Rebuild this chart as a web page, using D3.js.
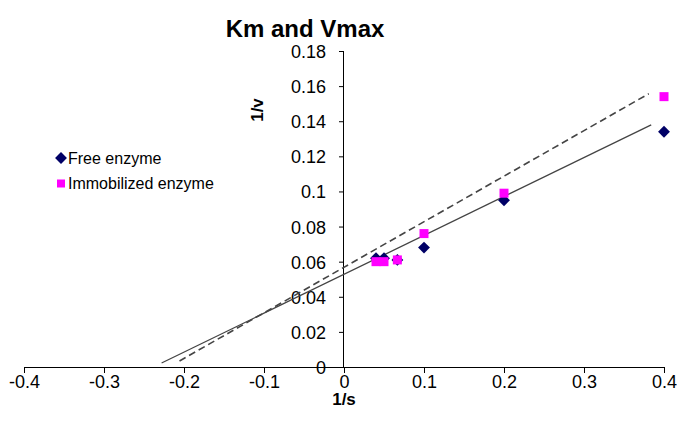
<!DOCTYPE html>
<html>
<head>
<meta charset="utf-8">
<script src="https://cdnjs.cloudflare.com/ajax/libs/d3/7.8.5/d3.min.js"></script>
<style>
  body { margin: 0; background: #fff; }
  svg { font-family: "Liberation Sans", Arial, sans-serif; }
</style>
</head>
<body>
<div class="chart"></div>
<script>
// 1/s values
var invS = [0.4, 0.2, 0.1, 0.0667, 0.05, 0.04];
// 1/v values
var freeEnzyme = [0.134, 0.095, 0.068, 0.061, 0.062, 0.062];
var immobEnzyme = [0.154, 0.099, 0.076, 0.061, 0.060, 0.060];
// trendlines: [slope, intercept, xStart, xEnd]
var freeTrend = [0.2216, 0.0528, -0.228, 0.384];
var immobTrend = [0.2595, 0.0568, -0.2056, 0.381];

var xTicks = [-0.4, -0.3, -0.2, -0.1, 0, 0.1, 0.2, 0.3, 0.4];
var yTicks = [0, 0.02, 0.04, 0.06, 0.08, 0.1, 0.12, 0.14, 0.16, 0.18];

var width = 677, height = 428;

var svg = d3.select(".chart")
    .append("svg")
    .attr("width", width)
    .attr("height", height);

var x = d3.scaleLinear()
    .domain([-0.4, 0.4])
    .range([24, 664]);

var y = d3.scaleLinear()
    .domain([0, 0.18])
    .range([367, 51]);

// title
svg.append("text")
    .attr("x", 305)
    .attr("y", 37)
    .attr("text-anchor", "middle")
    .style("font-size", "24px")
    .style("font-weight", "bold")
    .text("Km and Vmax");

// axes (plain hyphen for negatives, like the original)
function fmt(p) {
  return function(d) { return String(+d.toFixed(p)); };
}

var xAxis = d3.axisBottom(x)
    .tickValues(xTicks)
    .tickSize(6)
    .tickPadding(2)
    .tickFormat(fmt(1));

var yAxis = d3.axisLeft(y)
    .tickValues(yTicks)
    .tickSize(5)
    .tickPadding(13)
    .tickFormat(fmt(2));

var gx = svg.append("g")
    .attr("transform", "translate(0," + y(0) + ")")
    .call(xAxis);

var gy = svg.append("g")
    .attr("transform", "translate(" + x(0) + ",0)")
    .call(yAxis);

[gx, gy].forEach(function(g) {
  g.select(".domain").attr("stroke", "#000");
  g.selectAll(".tick line").attr("stroke", "#000");
  g.selectAll(".tick text")
      .attr("fill", "#000")
      .style("font-size", "18px")
      .style("font-family", "Liberation Sans, Arial, sans-serif");
});
gx.select(".domain").attr("d", "M" + x(-0.4) + ",0.5H" + x(0.4));
gy.select(".domain").attr("d", "M-0.5," + y(0) + "V" + y(0.18));
gx.selectAll(".tick text").attr("dy", "0.7em");
gy.selectAll(".tick text").attr("dy", "0.36em");

// axis titles
svg.append("text")
    .attr("x", x(0))
    .attr("y", 405)
    .attr("text-anchor", "middle")
    .style("font-size", "17px")
    .style("font-weight", "bold")
    .text("1/s");

svg.append("text")
    .attr("transform", "translate(263,110) rotate(-90)")
    .attr("text-anchor", "middle")
    .style("font-size", "17px")
    .style("font-weight", "bold")
    .text("1/v");

// trendlines
function trendPts(t) {
  return [[t[2], t[0] * t[2] + t[1]], [t[3], t[0] * t[3] + t[1]]];
}
var line = d3.line()
    .x(function(d) { return x(d[0]); })
    .y(function(d) { return y(d[1]); });

svg.append("path")
    .datum(trendPts(freeTrend))
    .attr("d", line)
    .attr("fill", "none")
    .attr("stroke", "#444")
    .attr("stroke-width", 1.3);

svg.append("path")
    .datum(trendPts(immobTrend))
    .attr("d", line)
    .attr("fill", "none")
    .attr("stroke", "#444")
    .attr("stroke-width", 1.6)
    .attr("stroke-dasharray", "7,4");

// markers
var diamond = d3.symbol().type(d3.symbolDiamond2).size(90);

svg.append("g")
  .selectAll("path")
    .data(invS.map(function(d, i) { return [d, freeEnzyme[i]]; }))
  .enter().append("path")
    .attr("d", diamond)
    .attr("transform", function(d) { return "translate(" + x(d[0]) + "," + y(d[1]) + ")"; })
    .attr("fill", "#000066");

svg.append("g")
  .selectAll("rect")
    .data(invS.map(function(d, i) { return [d, immobEnzyme[i]]; }))
  .enter().append("rect")
    .attr("x", function(d) { return x(d[0]) - 4.5; })
    .attr("y", function(d) { return y(d[1]) - 4.5; })
    .attr("width", 9)
    .attr("height", 9)
    .attr("fill", "#ff00ff");

// legend
var legend = svg.append("g")
    .attr("transform", "translate(61,158)");

legend.append("path")
    .attr("d", diamond)
    .attr("fill", "#000066");
legend.append("text")
    .attr("x", 7)
    .attr("y", 6)
    .style("font-size", "16px")
    .text("Free enzyme");

legend.append("rect")
    .attr("x", -4)
    .attr("y", 21.5)
    .attr("width", 8)
    .attr("height", 8)
    .attr("fill", "#ff00ff");
legend.append("text")
    .attr("x", 7)
    .attr("y", 31)
    .style("font-size", "16px")
    .text("Immobilized enzyme");
</script>
</body>
</html>
